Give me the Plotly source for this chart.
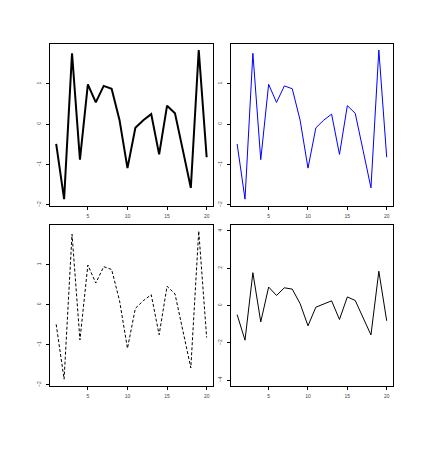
import plotly.graph_objects as go

# same series drawn in four panels
x_vals = list(range(1, 21))
y_vals = [-0.49, -1.86, 1.76, -0.88, 0.99, 0.54, 0.95, 0.88, 0.10, -1.09,
          -0.09, 0.10, 0.25, -0.75, 0.46, 0.27, -0.65, -1.58, 1.84, -0.82]
x_ticks = [5, 10, 15, 20]
y_ticks_small = [-2, -1, 0, 1]
y_ticks_wide = [-4, -2, 0, 2, 4]

W, H = 439, 475
OFF = 7  # page body offset


def dom_x(a, b):
    return [(a - OFF) / W, (b - OFF) / W]


def dom_y(top, bottom):
    return [(H - bottom + OFF) / H, (H - top + OFF) / H]


panels = [
    # (xdomain, ydomain, color, width, dash, yrange, yticks)
    (dom_x(49, 212), dom_y(43, 205), "black", 2, "solid", [-2.03, 1.99], y_ticks_small),
    (dom_x(230, 392), dom_y(43, 205), "#0000ff", 1, "solid", [-2.03, 1.99], y_ticks_small),
    (dom_x(49, 212), dom_y(224, 385), "black", 1, "3px,2px", [-2.03, 1.99], y_ticks_small),
    (dom_x(230, 392), dom_y(224, 385), "black", 1, "solid", [-4.32, 4.32], y_ticks_wide),
]

fig = go.Figure()
layout = {}
tick_font = dict(family="Liberation Sans, Arial", size=5, color="#444")

for i, (xd, yd, col, lw, dash, yr, yt) in enumerate(panels, start=1):
    sfx = "" if i == 1 else str(i)
    fig.add_trace(go.Scatter(
        x=x_vals, y=y_vals, mode="lines",
        line=dict(color=col, width=lw, dash=dash),
        xaxis="x" + sfx, yaxis="y" + sfx, showlegend=False,
        hoverinfo="skip",
    ))
    layout["xaxis" + sfx] = dict(
        domain=xd, anchor="y" + sfx, range=[0.22, 20.8],
        tickvals=x_ticks, ticks="outside", ticklen=3, tickwidth=1, tickcolor="black",
        showline=True, linecolor="black", linewidth=1, mirror=True,
        showgrid=False, zeroline=False, tickfont=tick_font, ticklabelstandoff=2,
    )
    layout["yaxis" + sfx] = dict(
        domain=yd, anchor="x" + sfx, range=yr,
        tickvals=yt, ticks="outside", ticklen=3, tickwidth=1, tickcolor="black",
        showline=True, linecolor="black", linewidth=1, mirror=True,
        showgrid=False, zeroline=False, tickfont=tick_font, tickangle=-90,
        ticklabelstandoff=3,
    )

fig.update_layout(
    width=W, height=H,
    margin=dict(l=0, r=0, t=0, b=0),
    paper_bgcolor="white", plot_bgcolor="white",
    **layout,
)

fig.write_html("out.html")
